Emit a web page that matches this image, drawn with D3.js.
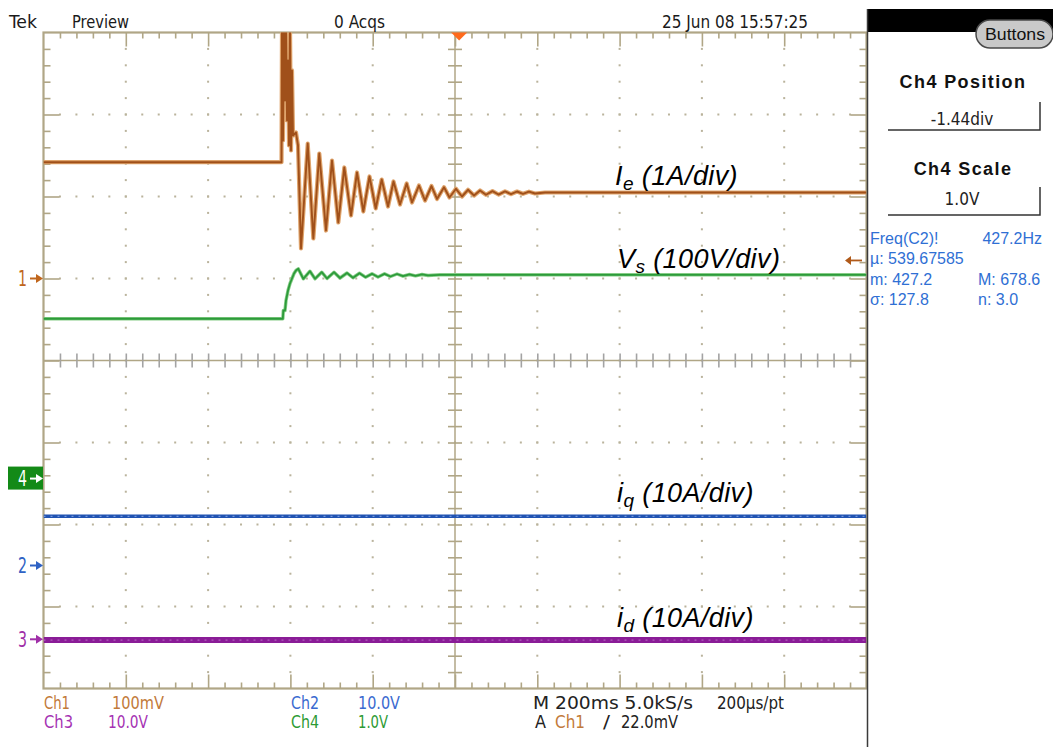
<!DOCTYPE html>
<html><head><meta charset="utf-8">
<script src="https://cdn.jsdelivr.net/npm/d3@7/dist/d3.min.js"></script>
<style>html,body{margin:0;padding:0;background:#fff;}svg{display:block}</style>
</head><body>
<svg id="chart" width="1053" height="747"></svg>
<script>
// ---------------- DATA ----------------
const msPerDiv = 200;
const timeDomain = [-1000, 1000];   // ms (10 div x 200 ms)
const divDomain = [-4, 4];          // vertical divisions

// Ie (Ch1, 1A/div) trace: [time ms, screen div]
const ieTrace = [
  [-1000, 2.418], [-421.6, 2.418], [-420.4, 4.085], [-418.0, 2.683], [-415.5, 4.085],
  [-413.1, 3.171], [-410.7, 4.085], [-408.2, 2.927], [-405.8, 3.659], [-403.4, 2.622],
  [-401.0, 4.085], [-398.5, 2.561], [-396.1, 3.537], [-393.7, 2.744], [-386.4, 2.780],
  [-381.5, 2.622],
  [-374.2, 1.366], [-357.9, 2.646], [-344.3, 1.488], [-329.8, 2.524], [-313.5, 1.585],
  [-298.9, 2.439], [-283.6, 1.683], [-269.0, 2.354], [-252.7, 1.768], [-238.1, 2.293],
  [-222.8, 1.817], [-207.8, 2.244], [-192.7, 1.854], [-178.1, 2.207], [-162.8, 1.878],
  [-149.4, 2.183], [-133.7, 1.902], [-117.4, 2.159], [-104.5, 1.927], [-87.5, 2.134],
  [-72.9, 1.951], [-57.1, 2.128], [-43.7, 1.970], [-26.7, 2.113], [-13.4, 1.988],
  [2.4, 2.094], [17.0, 2.000], [31.6, 2.082], [46.2, 2.012], [60.8, 2.073],
  [75.3, 2.021], [91.1, 2.065], [105.7, 2.024], [121.5, 2.063], [136.1, 2.029],
  [150.7, 2.061], [165.2, 2.033], [179.8, 2.059], [194.4, 2.037], [218.7, 2.049],
  [1000, 2.049]
];

// Vs (Ch4, 100V/div) trace
const vsTrace = [
  [-1000, 0.509], [-418.4, 0.509], [-417.2, 0.610], [-413.1, 0.610], [-410.7, 0.732],
  [-405.8, 0.854], [-401.0, 0.939], [-396.1, 1.000], [-391.2, 1.061], [-386.4, 1.098],
  [-380.8, 1.118], [-368.6, 0.996], [-352.4, 1.089], [-340.2, 0.996], [-323.9, 1.077],
  [-311.0, 1.000], [-294.0, 1.077], [-279.5, 1.006], [-262.4, 1.067], [-247.9, 1.009],
  [-232.1, 1.065], [-217.5, 1.016], [-201.7, 1.057], [-187.1, 1.018], [-171.3, 1.057],
  [-156.8, 1.024], [-140.9, 1.055], [-126.4, 1.028], [-110.6, 1.049], [-96.1, 1.033],
  [-80.2, 1.049], [-65.6, 1.037], [-36.5, 1.045], [1000, 1.045]
];

// iq (Ch2, 10A/div) and id (Ch3, 10A/div)
const iqTrace = [[-1000, -1.90], [1000, -1.90]];
const idTrace = [[-1000, -3.41], [1000, -3.41]];

// channel reference markers: [label, level in div]
const refLevels = [["1", 1.0], ["4", -1.44], ["2", -2.50], ["3", -3.40]];
const trigLevel = 1.22;   // div
const trigTime = 10;      // ms

const traceLabels = [["I", "e", " (1A/div)"], ["V", "s", " (100V/div)"], ["i", "q", " (10A/div)"], ["i", "d", " (10A/div)"]];
const headerTexts = ["Tek", "Preview", "0 Acqs", "25 Jun 08 15:57:25"];
const footerRow1 = ["Ch1", "100mV", "Ch2", "10.0V", "M 200ms 5.0kS/s", "200µs/pt"];
const footerRow2 = ["Ch3", "10.0V", "Ch4", "1.0V", "A", "Ch1", "/", "22.0mV"];
const panelTitles = ["Ch4 Position", "Ch4 Scale"];
const panelValues = ["-1.44div", "1.0V"];
const measLeft = ["Freq(C2)!", "µ: 539.67585", "m: 427.2", "σ: 127.8"];
const measRight = ["427.2Hz", "", "M: 678.6", "n: 3.0"];

// ---------------- DRAWING ----------------
const svg = d3.select("#chart");
const L = 43.5, R = 866.5, T = 32.5, B = 688.5;
const x = d3.scaleLinear().domain(timeDomain).range([L, R]);
const y = d3.scaleLinear().domain(divDomain).range([B, T]);
const GRID = "#b0a686";
const NARROW = "'Liberation Sans Narrow','Arial Narrow','DejaVu Sans Condensed',sans-serif";
const SANS = "'Liberation Sans',Arial,sans-serif";

const minorT = d3.range(-50, 51).map(i => i * msPerDiv / 5);
const majorT = d3.range(-5, 6).map(i => i * msPerDiv);
const minorV = d3.range(-20, 21).map(i => i / 5);
const majorV = d3.range(-4, 5);
const inner = (arr, lim) => arr.filter(v => Math.abs(v) < lim - 1e-9);

// dotted grid
const dots = svg.append("g").attr("fill", "#bab39c");
inner(majorV, 4).filter(v => v !== 0).forEach(v => {
  inner(minorT, 1000).forEach(t => dots.append("rect").attr("x", x(t) - 1).attr("y", y(v) - 1).attr("width", 2).attr("height", 2));
});
inner(majorT, 1000).filter(t => t !== 0).forEach(t => {
  inner(minorV, 4).forEach(v => dots.append("rect").attr("x", x(t) - 1).attr("y", y(v) - 1).attr("width", 2).attr("height", 2));
});

// center cross
svg.append("line").attr("x1", L).attr("x2", R).attr("y1", y(0)).attr("y2", y(0)).attr("stroke", GRID).attr("stroke-width", 1.5);
svg.append("line").attr("x1", x(0)).attr("x2", x(0)).attr("y1", T).attr("y2", B).attr("stroke", GRID).attr("stroke-width", 1.5);

function styleAxis(g, col, w) {
  g.select(".domain").remove();
  g.selectAll(".tick line").attr("stroke", col).attr("stroke-width", w);
  g.selectAll(".tick text").remove();
}
const cT = inner(minorT, 1000).filter(t => t !== 0);
const cV = inner(minorV, 4).filter(v => v !== 0);
[7, -7].forEach(s => {
  svg.append("g").attr("transform", `translate(0,${y(0)})`)
    .call(d3.axisBottom(x).tickValues(cT).tickSize(s).tickFormat(""))
    .call(g => styleAxis(g, "#a3a3a3", 1.6));
  svg.append("g").attr("transform", `translate(${x(0)},0)`)
    .call(d3.axisRight(y).tickValues(cV).tickSize(s).tickFormat(""))
    .call(g => styleAxis(g, GRID, 1.6));
});

// border ticks
const bMinT = inner(minorT, 1000).filter(t => Math.abs(t) % msPerDiv !== 0);
const bMajT = inner(majorT, 1000);
const bMinV = inner(minorV, 4).filter(v => Math.abs(Math.round(v * 5)) % 5 !== 0);
const bMajV = inner(majorV, 4);
[[bMinT, 6], [bMajT, 14]].forEach(([vals, s]) => {
  svg.append("g").attr("transform", `translate(0,${T})`).call(d3.axisBottom(x).tickValues(vals).tickSize(s).tickFormat("")).call(g => styleAxis(g, GRID, 1.6));
  svg.append("g").attr("transform", `translate(0,${B})`).call(d3.axisTop(x).tickValues(vals).tickSize(s).tickFormat("")).call(g => styleAxis(g, GRID, 1.6));
});
[[bMinV, 7], [bMajV, 16]].forEach(([vals, s]) => {
  svg.append("g").attr("transform", `translate(${L},0)`).call(d3.axisRight(y).tickValues(vals).tickSize(s).tickFormat("")).call(g => styleAxis(g, GRID, 1.6));
  svg.append("g").attr("transform", `translate(${R},0)`).call(d3.axisLeft(y).tickValues(vals).tickSize(s).tickFormat("")).call(g => styleAxis(g, GRID, 1.6));
});
svg.append("rect").attr("x", L).attr("y", T).attr("width", R - L).attr("height", B - T)
  .attr("fill", "none").attr("stroke", GRID).attr("stroke-width", 2.2);

// traces
svg.append("clipPath").attr("id", "plotclip").append("rect").attr("x", L).attr("y", T).attr("width", R - L).attr("height", B - T);
const tg = svg.append("g").attr("clip-path", "url(#plotclip)");
const line = d3.line().x(d => x(d[0])).y(d => y(d[1]));
function trace(data, col, w, extra) {
  return tg.append("path").datum(data).attr("d", line).attr("fill", "none")
    .attr("stroke", col).attr("stroke-width", w).attr("stroke-linejoin", "round").attr("stroke-dasharray", extra || null);
}
trace(idTrace, "#8a1c97", 6);
trace(idTrace, "#b15dbd", 1.4, "2,5");
trace(iqTrace, "#2053b2", 3.5);
trace(iqTrace, "#7396da", 1.2, "2,5");
trace(vsTrace, "#86cc86", 3.4);
trace(vsTrace, "#2c9b3a", 1.8);
trace(ieTrace, "#dfa46c", 4.2);
trace(ieTrace, "#a0501a", 1.9);

// left reference markers
const refCol = { "1": "#c0661c", "2": "#2f62c4", "3": "#a02fa8", "4": "#ffffff" };
refLevels.forEach(([lab, lv]) => {
  const yy = y(lv);
  const c = refCol[lab];
  if (lab === "4") {
    svg.append("rect").attr("x", 8).attr("y", yy - 12).attr("width", 35).attr("height", 23).attr("fill", "#138a17");
  }
  svg.append("text").attr("x", 18).attr("y", yy + 7.5).text(lab)
    .attr("font-family", NARROW).attr("font-size", 21).attr("fill", c)
    .attr("textLength", 9).attr("lengthAdjust", "spacingAndGlyphs");
  svg.append("line").attr("x1", 30).attr("x2", 39).attr("y1", yy).attr("y2", yy).attr("stroke", c).attr("stroke-width", 2);
  svg.append("path").attr("d", `M36,${yy - 4.5}L43,${yy}L36,${yy + 4.5}Z`).attr("fill", c);
});

// trigger markers
svg.append("path").attr("d", `M${x(trigTime) - 8},${T}L${x(trigTime) + 8},${T}L${x(trigTime)},${T + 8}Z`).attr("fill", "#ff6a1c");
{
  const yy = y(trigLevel);
  svg.append("line").attr("x1", 849).attr("x2", 862).attr("y1", yy).attr("y2", yy).attr("stroke", "#b05a1a").attr("stroke-width", 1.8);
  svg.append("path").attr("d", `M845,${yy}L851,${yy - 4.5}L851,${yy + 4.5}Z`).attr("fill", "#b05a1a");
}

// trace labels
const labelPos = [[615, 185], [617, 268], [617, 502], [617, 627]];
traceLabels.forEach(([m, s, r], i) => {
  const t = svg.append("text").attr("x", labelPos[i][0]).attr("y", labelPos[i][1])
    .attr("font-family", SANS).attr("font-style", "italic").attr("font-size", 27).attr("letter-spacing", 0.4).attr("fill", "#000");
  t.append("tspan").text(m);
  t.append("tspan").text(s).attr("font-size", 19).attr("dy", 5);
  t.append("tspan").text(r).attr("dy", -5);
});

// header
const headerPos = [[9, 28], [72, 28], [334, 28], [662, 28]];
const headerW = [28, 57, 51, 146];
headerTexts.forEach((s, i) => {
  svg.append("text").attr("x", headerPos[i][0]).attr("y", headerPos[i][1]).text(s)
    .attr("font-family", NARROW).attr("font-size", 18).attr("fill", "#1a1a1a")
    .attr("textLength", headerW[i]).attr("lengthAdjust", "spacingAndGlyphs");
});

// footer
const f1Pos = [44, 112, 291, 358, 533, 717];
const f1W = [26, 52, 28, 42, 160, 67];
const f1Col = ["#c27a3a", "#c27a3a", "#3a6ad0", "#3a6ad0", "#222", "#222"];
footerRow1.forEach((s, i) => {
  svg.append("text").attr("x", f1Pos[i]).attr("y", 709).text(s)
    .attr("font-family", NARROW).attr("font-size", 17).attr("fill", f1Col[i])
    .attr("textLength", f1W[i]).attr("lengthAdjust", "spacingAndGlyphs");
});
const f2Pos = [44, 108, 291, 358, 535, 555, 603, 621];
const f2W = [29, 40, 28, 30, 11, 30, 7, 57];
const f2Col = ["#a532b3", "#a532b3", "#2c9a34", "#2c9a34", "#222", "#c27a3a", "#222", "#222"];
footerRow2.forEach((s, i) => {
  svg.append("text").attr("x", f2Pos[i]).attr("y", 728).text(s)
    .attr("font-family", NARROW).attr("font-size", 17).attr("fill", f2Col[i])
    .attr("textLength", f2W[i]).attr("lengthAdjust", "spacingAndGlyphs");
});

// right panel
svg.append("rect").attr("x", 868).attr("y", 9).attr("width", 185).attr("height", 23).attr("fill", "#000");
svg.append("line").attr("x1", 867.5).attr("x2", 867.5).attr("y1", 9).attr("y2", 747).attr("stroke", "#3a3a3a").attr("stroke-width", 1.5);
svg.append("rect").attr("x", 976).attr("y", 20).attr("width", 77).attr("height", 28).attr("rx", 14)
  .attr("fill", "#c9c9c9").attr("stroke", "#4a4a4a").attr("stroke-width", 1.5);
svg.append("text").attr("x", 1015).attr("y", 40).attr("text-anchor", "middle").text("Buttons")
  .attr("font-family", SANS).attr("font-size", 16).attr("fill", "#111")
  .attr("textLength", 60).attr("lengthAdjust", "spacingAndGlyphs");

const titleY = [88, 175], valY = [125, 205], boxB = [130, 215];
panelTitles.forEach((s, i) => {
  svg.append("text").attr("x", 963).attr("y", titleY[i]).attr("text-anchor", "middle").text(s)
    .attr("font-family", SANS).attr("font-weight", "bold").attr("font-size", 18).attr("letter-spacing", 1.4).attr("fill", "#111");
  svg.append("text").attr("x", 962).attr("y", valY[i]).attr("text-anchor", "middle").text(panelValues[i])
    .attr("font-family", NARROW).attr("font-size", 17).attr("fill", "#222");
  svg.append("path").attr("d", `M888,${boxB[i]}H1040V${boxB[i] - 28}`).attr("fill", "none").attr("stroke", "#333").attr("stroke-width", 1.5);
});

const measY = [244, 264, 285, 305];
measLeft.forEach((s, i) => {
  svg.append("text").attr("x", 870).attr("y", measY[i]).text(s)
    .attr("font-family", SANS).attr("font-size", 16).attr("fill", "#2f6fd4");
  if (measRight[i]) {
    svg.append("text").attr("x", i === 0 ? 1042 : 978).attr("y", measY[i]).attr("text-anchor", i === 0 ? "end" : "start").text(measRight[i])
      .attr("font-family", SANS).attr("font-size", 16).attr("fill", "#2f6fd4");
  }
});
</script>
</body></html>
